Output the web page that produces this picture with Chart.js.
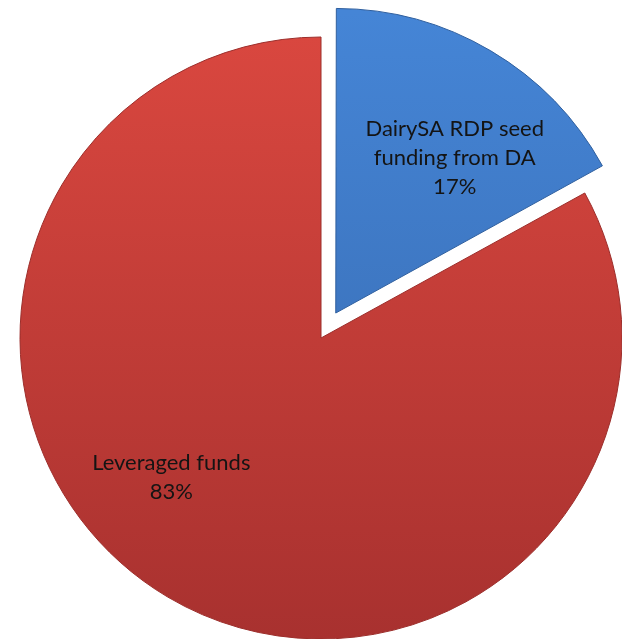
<!DOCTYPE html>
<html>
<head>
<meta charset="utf-8">
<script src="https://cdn.jsdelivr.net/npm/chart.js@4.4.1/dist/chart.umd.min.js"></script>
<style>
  html, body { margin: 0; padding: 0; background: #fff; }
  #wrap { width: 622px; height: 639px; position: relative; }
</style>
</head>
<body>
<div id="wrap"><canvas id="pie"></canvas></div>
<script>
// Funding split.
const categories = ["DairySA RDP seed funding from DA", "Leveraged funds"];
const shares = [17, 83];
const labelLines = [["DairySA RDP seed", "funding from DA"], ["Leveraged funds"]];

const FONT = '"Lato", "Open Sans", sans-serif';
const TOP = ["#4585d6", "#d9473f"];
const BOTTOM = ["#3668ad", "#a8312f"];

function sliceFill(ctx) {
  const i = ctx.dataIndex;
  const area = ctx.chart.chartArea;
  if (!area) return TOP[i];
  const g = ctx.chart.ctx.createLinearGradient(0, area.top, 0, area.bottom);
  g.addColorStop(0, TOP[i]);
  g.addColorStop(1, BOTTOM[i]);
  return g;
}

// Excel-style labels inside each slice: name lines then the percentage.
// place: [angle nudge from the slice middle (deg), distance as fraction of radius]
const place = [[6, 0.745], [16.4, 0.68]];
const sliceLabels = {
  id: "sliceLabels",
  afterDatasetsDraw(chart) {
    const { ctx } = chart;
    const meta = chart.getDatasetMeta(0);
    const total = shares.reduce((a, b) => a + b, 0);
    ctx.save();
    ctx.font = `22px ${FONT}`;
    ctx.fillStyle = "#141414";
    ctx.textAlign = "center";
    ctx.textBaseline = "middle";
    meta.data.forEach((arc, i) => {
      const p = arc.getProps(["x", "y", "startAngle", "endAngle", "outerRadius"], true);
      const mid = (p.startAngle + p.endAngle) / 2 + place[i][0] * Math.PI / 180;
      const r = p.outerRadius * place[i][1];
      const cx = p.x + Math.cos(mid) * r;
      const cy = p.y + Math.sin(mid) * r;
      const lines = labelLines[i].concat(Math.round(shares[i] / total * 100) + "%");
      const lh = 29;
      lines.forEach((t, k) => {
        ctx.fillText(t, cx, cy + (k - (lines.length - 1) / 2) * lh);
      });
    });
    ctx.restore();
  },
};

new Chart(document.getElementById("pie"), {
  type: "pie",
  data: {
    labels: categories,
    datasets: [{
      data: shares,
      backgroundColor: sliceFill,
      borderColor: ["#2f5f9e", "#9c2e2b"],
      borderWidth: 1,
      // Chart.js 4 slides an arc out by a quarter of its offset
      offset: [116, 0],
    }],
  },
  options: {
    responsive: true,
    maintainAspectRatio: false,
    animation: false,
    radius: 301,
    layout: { padding: { left: 20, right: 0, top: 37, bottom: 0 } },
    plugins: {
      legend: { display: false },
      tooltip: { enabled: false },
    },
  },
  plugins: [sliceLabels],
});
</script>
</body>
</html>
